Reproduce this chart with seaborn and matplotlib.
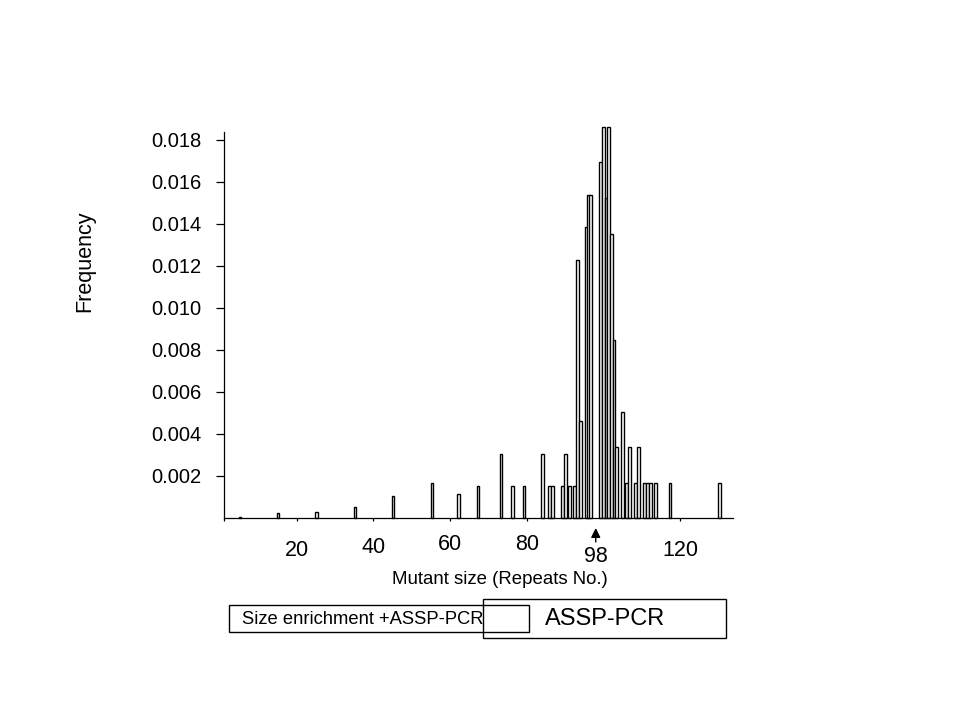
import numpy as np
import matplotlib
matplotlib.use("Agg")
import matplotlib.pyplot as plt
import matplotlib.transforms as mtransforms
from matplotlib.patches import Rectangle
import seaborn as sns

# ---- data ----
repeats = [5.2, 15.1, 25.2, 35.2, 45.1, 55.3, 62.2, 67.3, 73.3, 76.3, 79.3,
           84.2, 86.0, 86.8, 89.4, 90.2, 91.1, 92.5, 93.25, 94.0, 95.5, 96.1,
           96.7, 99.3, 100.0, 100.7, 101.4, 102.1, 102.8, 103.5, 105.0, 106.1,
           106.8, 108.4, 109.2, 110.8, 111.5, 112.2, 113.5, 117.35, 130.3]
frequency = [0.00005, 0.00022, 0.00029, 0.00052, 0.00105, 0.00167, 0.00114,
             0.00152, 0.00303, 0.00152, 0.00152, 0.00303, 0.00152, 0.00152,
             0.00152, 0.00305, 0.00152, 0.00152, 0.01229, 0.00462, 0.01386,
             0.01538, 0.01538, 0.01694, 0.01863, 0.01522, 0.01863, 0.01351,
             0.00848, 0.00338, 0.00503, 0.00167, 0.00338, 0.00167, 0.00338,
             0.00167, 0.00167, 0.00167, 0.00167, 0.00167, 0.00167]
ytick_vals = [0.002, 0.004, 0.006, 0.008, 0.010, 0.012, 0.014, 0.016, 0.018]
xtick_vals = [20, 40, 60, 80, 98, 120]
xtick_labels = ["20", "40", "60", "80", "98", "120"]
xlabel_text = "Mutant size (Repeats No.)"
ylabel_text = "Frequency"
box1_text = "Size enrichment +ASSP-PCR"
box2_text = "ASSP-PCR"

sns.set_theme(style="ticks")
plt.rcParams["font.family"] = ["Liberation Sans", "DejaVu Sans"]

W, H = 959, 719
fig = plt.figure(figsize=(W / 100, H / 100), dpi=100)
fig.patch.set_facecolor("white")

# axes box in pixels
ax_l, ax_r, ax_t, ax_b = 224, 733, 131.7, 518
ax = fig.add_axes([ax_l / W, 1 - ax_b / H, (ax_r - ax_l) / W, (ax_b - ax_t) / H])
ax.set_facecolor("white")
ax_h_px = ax_b - ax_t

bar_w = 0.7
ax.bar(repeats, frequency, width=bar_w, color="white", edgecolor="black",
       linewidth=1.0, clip_on=False, zorder=2)
sns.despine(ax=ax)

ax.set_xlim(1.04, 133.8)
ax.set_ylim(0, 0.018395)

for s in ["left", "bottom"]:
    ax.spines[s].set_linewidth(0.9)
    ax.spines[s].set_color("black")

# y ticks
ax.set_yticks(ytick_vals, labels=[f"{v:.3f}" for v in ytick_vals])
ax.tick_params(axis="y", direction="out", length=5.8, width=0.9, pad=10.5,
               labelsize=14.5, colors="black")

# x ticks
ax.set_xticks(xtick_vals, labels=xtick_labels)
ax.set_xticks([1.04], minor=True)
ax.tick_params(axis="x", which="both", direction="out", length=2.5, width=0.9,
               pad=0, labelsize=15.5, colors="black")
offset_px = 2.5 * 100 / 72
label_centers = {"20": 32, "40": 29.5, "60": 27, "80": 27, "98": 39, "120": 32}
for tick, lab in zip(ax.xaxis.get_major_ticks(), xtick_labels):
    tick.label1.set_va("center")
    tick.label1.set_y(-(label_centers[lab] - offset_px) / ax_h_px)
    if lab == "98":
        tick.tick1line.set_visible(False)

# arrow pointing at 98
blend = mtransforms.blended_transform_factory(ax.transData, ax.transAxes)
ax.annotate("", xy=(98, -10 / ax_h_px), xytext=(98, -24 / ax_h_px),
            xycoords=blend, textcoords=blend, annotation_clip=False,
            arrowprops=dict(arrowstyle="-|>", color="black", lw=1,
                            mutation_scale=14, shrinkA=0, shrinkB=0))

# axis labels
ax.set_xlabel(xlabel_text, fontsize=13.4, color="black")
ax.xaxis.label.set_va("center")
ax.xaxis.set_label_coords((500 - ax_l) / (ax_r - ax_l), -(579 - ax_b) / ax_h_px)
ax.set_ylabel(ylabel_text, fontsize=15.5, color="black")
ax.yaxis.label.set_va("center")
ax.yaxis.set_label_coords((85 - ax_l) / (ax_r - ax_l), (ax_b - 261) / ax_h_px)

# bottom boxes
def fig_rect(x0, y0, x1, y1):
    return Rectangle((x0 / W, 1 - y1 / H), (x1 - x0) / W, (y1 - y0) / H,
                     transform=fig.transFigure, fill=False,
                     edgecolor="black", linewidth=1.0)

fig.patches.append(fig_rect(482.7, 599.3, 726, 638.3))
fig.patches.append(fig_rect(229.3, 605, 529.3, 632.3))
fig.text(241.7 / W, 1 - 619.3 / H, box1_text, fontsize=13.2,
         ha="left", va="center", color="black")
fig.text(545 / W, 1 - 619.3 / H, box2_text, fontsize=17,
         ha="left", va="center", color="black")

fig.savefig("out.png", dpi=100, facecolor="white")
